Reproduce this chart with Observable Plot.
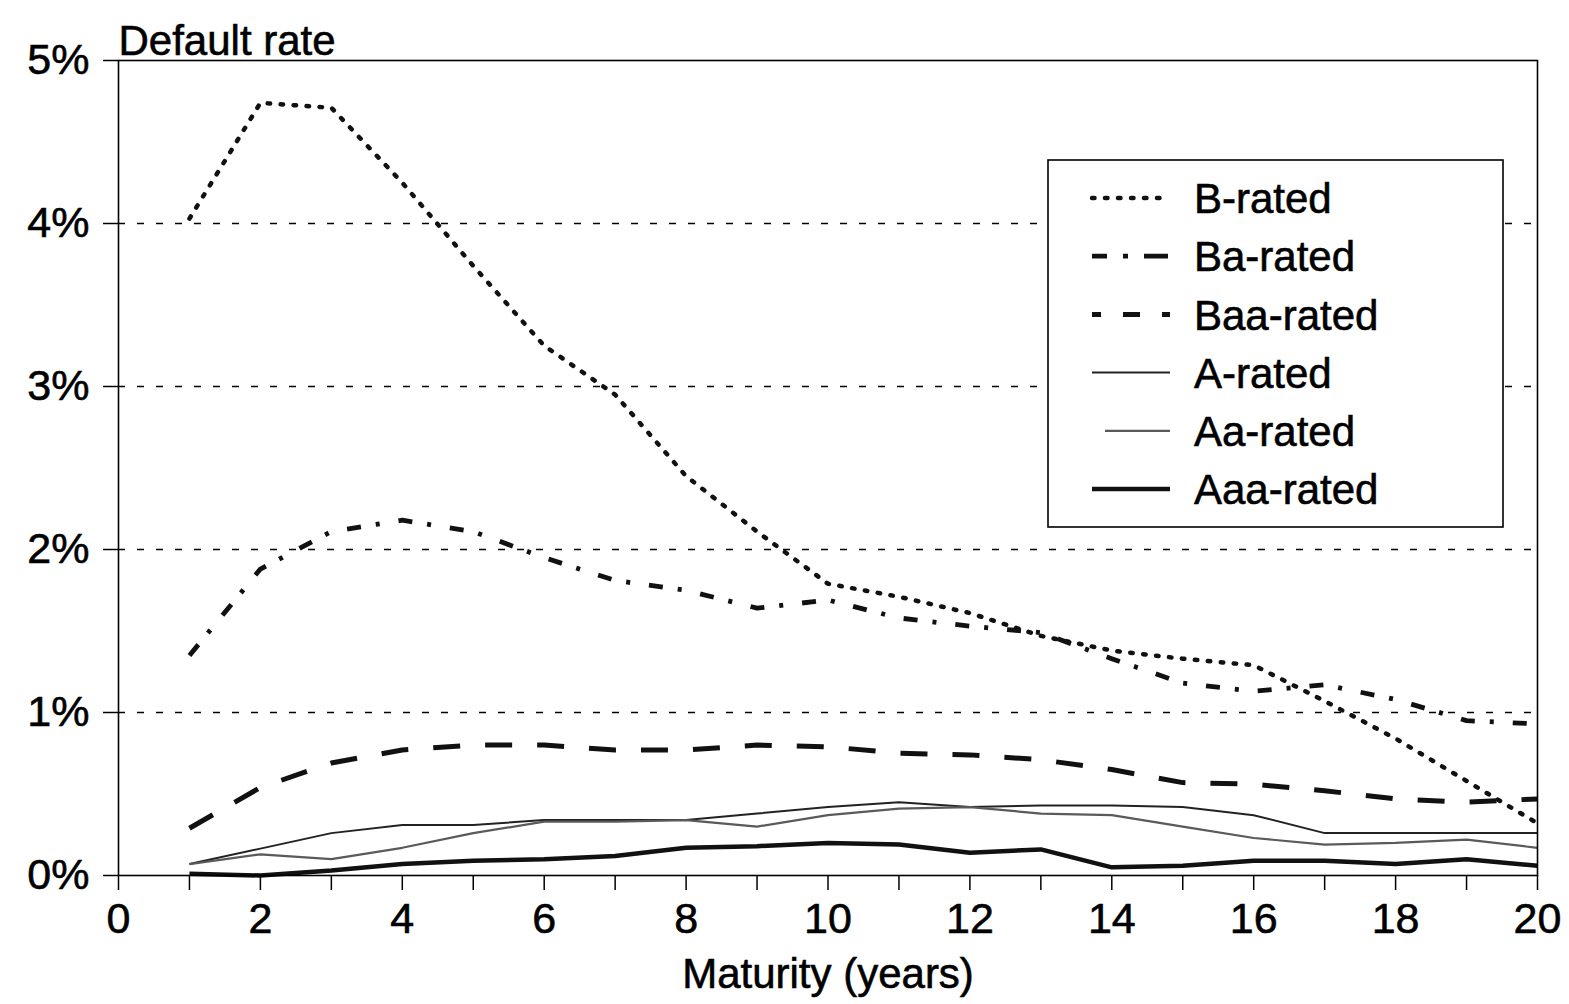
<!DOCTYPE html>
<html><head><meta charset="utf-8">
<script src="https://cdn.jsdelivr.net/npm/d3@7"></script>
<script src="https://cdn.jsdelivr.net/npm/@observablehq/plot@0.6"></script>
<style>body{margin:0;background:#fff;} svg{display:block} svg text{stroke:#000;stroke-width:0.6px;paint-order:stroke;}</style>
</head><body><div id="chart"></div>
<script>
// ---- data ----
const years = [1,2,3,4,5,6,7,8,9,10,11,12,13,14,15,16,17,18,19,20];
const seriesNames = ["B-rated","Ba-rated","Baa-rated","A-rated","Aa-rated","Aaa-rated"];
const bRated   = [4.03,4.74,4.71,4.25,3.74,3.25,2.95,2.45,2.11,1.79,1.71,1.61,1.47,1.38,1.33,1.29,1.07,0.84,0.58,0.32];
const baRated  = [1.35,1.88,2.11,2.18,2.11,1.95,1.81,1.75,1.64,1.69,1.58,1.53,1.49,1.33,1.18,1.13,1.17,1.08,0.95,0.93];
const baaRated = [0.29,0.54,0.69,0.77,0.80,0.80,0.77,0.77,0.80,0.79,0.75,0.74,0.71,0.65,0.57,0.56,0.52,0.47,0.45,0.47];
const aRated   = [0.07,0.165,0.26,0.31,0.31,0.34,0.34,0.34,0.38,0.42,0.45,0.42,0.43,0.43,0.42,0.37,0.26,0.26,0.26,0.26];
const aaRated  = [0.07,0.13,0.10,0.17,0.26,0.33,0.33,0.34,0.30,0.37,0.41,0.42,0.38,0.37,0.30,0.23,0.19,0.20,0.22,0.17];
const aaaRated = [0.01,0.00,0.03,0.07,0.09,0.10,0.12,0.17,0.18,0.20,0.19,0.14,0.16,0.05,0.06,0.09,0.09,0.07,0.10,0.06];
const xTicks = [0,1,2,3,4,5,6,7,8,9,10,11,12,13,14,15,16,17,18,19,20];
const yTicks = [0,1,2,3,4,5];
const yTitle = "Default rate";
const xTitle = "Maturity (years)";

// ---- styles ----
const seriesValues = [bRated, baRated, baaRated, aRated, aaRated, aaaRated];
const lineStyle = {
  "B-rated":   {stroke:"#111", strokeWidth:4.5, strokeDasharray:"2.5,10.5", strokeLinecap:"round"},
  "Ba-rated":  {stroke:"#111", strokeWidth:4.8, strokeDasharray:"14,15,4,19", strokeLinecap:"butt"},
  "Baa-rated": {stroke:"#111", strokeWidth:5, strokeDasharray:"27,25", strokeLinecap:"butt"},
  "A-rated":   {stroke:"#222", strokeWidth:2, strokeDasharray:null, strokeLinecap:"butt"},
  "Aa-rated":  {stroke:"#5a5a5a", strokeWidth:2.2, strokeDasharray:null, strokeLinecap:"butt"},
  "Aaa-rated": {stroke:"#111", strokeWidth:4.5, strokeDasharray:null, strokeLinecap:"butt"}
};
const FONT = "'Liberation Sans', Arial, Helvetica, sans-serif";

const rows = [];
seriesNames.forEach((name, i) => seriesValues[i].forEach((v, j) => rows.push({series:name, year:years[j], rate:v})));

const lineMarks = seriesNames.map(name => {
  const s = lineStyle[name];
  const opts = {x:"year", y:"rate", stroke:s.stroke, strokeWidth:s.strokeWidth, strokeLinecap:s.strokeLinecap, strokeLinejoin:"round"};
  if (s.strokeDasharray) opts.strokeDasharray = s.strokeDasharray;
  return Plot.line(rows.filter(r => r.series === name), opts);
});

const chart = Plot.plot({
  width:1569, height:1004,
  marginLeft:118, marginRight:32, marginTop:60, marginBottom:129,
  style:{fontFamily:FONT, fontSize:"42px", background:"#fff", color:"#000"},
  x:{domain:[0,20]},
  y:{domain:[0,5]},
  marks:[
    Plot.ruleY(yTicks.filter(d => d > 0 && d < 5), {stroke:"#000", strokeWidth:1.4, strokeDasharray:"7,12"}),
    ...lineMarks,
    Plot.frame({stroke:"#000", strokeWidth:1.6}),
    Plot.axisX({ticks:xTicks, tickSize:15, tickPadding:12, tickFormat:d => d % 2 === 0 ? String(d) : "", label:null, fontSize:43, strokeWidth:1.5}),
    Plot.axisY({ticks:yTicks, tickSize:15, tickPadding:14, tickFormat:d => d + "%", label:null, fontSize:43, strokeWidth:1.5}),
    Plot.text([yTitle], {text:d => d, frameAnchor:"top-left", textAnchor:"start", lineAnchor:"bottom", dy:-6, fontSize:42}),
    Plot.text([xTitle], {text:d => d, frameAnchor:"bottom", lineAnchor:"bottom", dy:112, fontSize:42})
  ]
});
document.getElementById("chart").appendChild(chart);

// ---- legend (inside the SVG, top right) ----
const svg = d3.select(chart);
const lg = svg.append("g").attr("class","legend");
lg.append("rect").attr("x",1048).attr("y",160).attr("width",455).attr("height",367)
  .attr("fill","#fff").attr("stroke","#000").attr("stroke-width",1.6);
seriesNames.forEach((name, i) => {
  const cy = 198 + i * 58.2;
  const s = lineStyle[name];
  const x1 = name === "Aa-rated" ? 1105 : 1092;
  const x2 = name === "Ba-rated" ? 1168 : 1170;
  const ln = lg.append("line").attr("x1",x1).attr("x2",x2).attr("y1",cy).attr("y2",cy)
    .attr("stroke",s.stroke).attr("stroke-width",s.strokeWidth).attr("stroke-linecap",s.strokeLinecap);
  if (name === "Baa-rated") ln.attr("stroke-dasharray","9,22,17,22,9");
  else if (name === "Ba-rated") ln.attr("stroke-dasharray","15,16,5,16,30");
  else if (s.strokeDasharray) ln.attr("stroke-dasharray", s.strokeDasharray);
  lg.append("text").attr("x",1194).attr("y",cy).attr("dy","0.36em")
    .attr("text-anchor","start")
    .attr("font-family",FONT).attr("font-size",42).attr("fill","#000").text(name);
});
</script></body></html>
